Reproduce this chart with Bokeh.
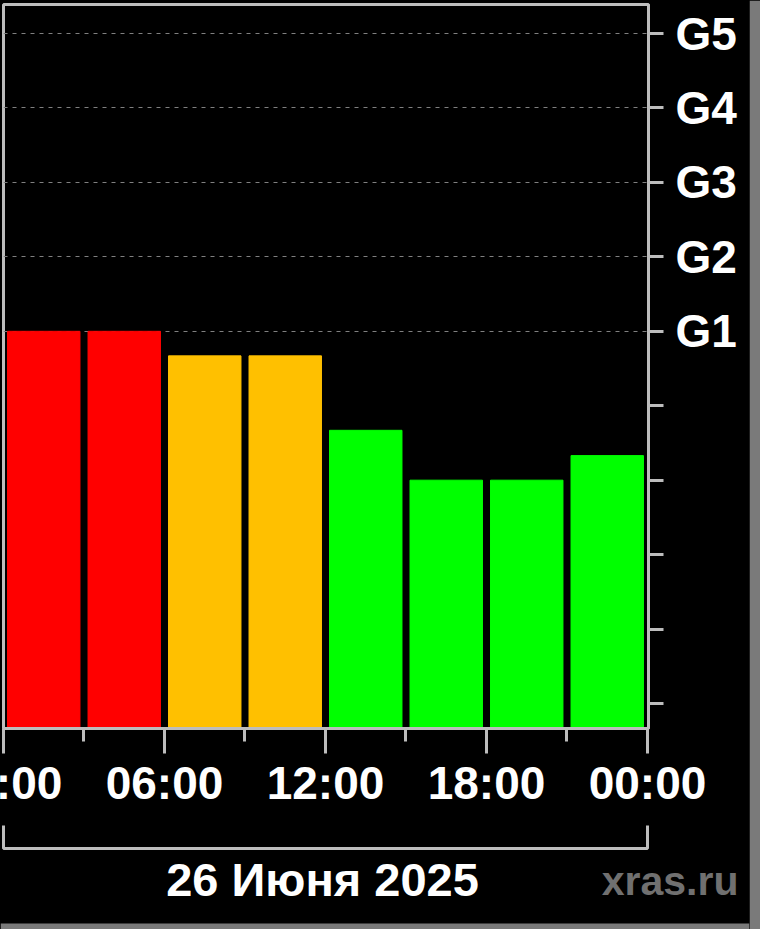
from bokeh.plotting import figure
from bokeh.models import Range1d, FixedTicker, ColumnDataSource
from bokeh.layouts import column, row
from bokeh.core.properties import value
from bokeh.embed import file_html
from bokeh.resources import INLINE

# ---- data ----
hours = [1.5, 4.5, 7.5, 10.5, 13.5, 16.5, 19.5, 22.5]      # 3-hour slot centres
kp = [5.0, 5.0, 4.67, 4.67, 3.67, 3.0, 3.0, 3.33]
colors = ["#ff0000", "#ff0000", "#ffc000", "#ffc000",
          "#00ff00", "#00ff00", "#00ff00", "#00ff00"]
x_ticks = [0, 6, 12, 18, 24]
x_minor = [3, 9, 15, 21]
x_labels = ["00:00", "06:00", "12:00", "18:00", "00:00"]
y_ticks = list(range(10))
g_labels = {5: "G1", 6: "G2", 7: "G3", 8: "G4", 9: "G5"}
date_text = "26 Июня 2025"
site_text = "xras.ru"

FONT = "Liberation Sans"
AX = "#bdbdbd"
BORDER = "#7a7a7a"

# layout geometry (pixels)
W, H = 760, 929
MAIN_W, MAIN_H = 749, 812
HIDE = 60                                     # part of main figure left of the window
FX0, FX1, FY0, FY1 = 3, 648, 4, 728          # frame edges (page px)
PXH = 26.833                                  # pixels per hour
PXU = 74.44                                   # pixels per Kp unit
Y_ZERO = 703                                  # page y of Kp 0

x0, x1 = 0.0, (FX1 - FX0) / PXH
y0, y1 = (Y_ZERO - FY1) / PXU, (Y_ZERO - FY0) / PXU

p = figure(width=MAIN_W + 2 * HIDE, height=MAIN_H, output_backend="svg",
           toolbar_location=None, frame_align=False,
           x_range=Range1d(x0, x1), y_range=Range1d(y0, y1),
           y_axis_location="right", background_fill_color="black",
           border_fill_color="black", min_border_left=FX0 + HIDE, min_border_top=FY0,
           min_border_right=MAIN_W - FX1, min_border_bottom=MAIN_H - FY1,
           margin=(0, 0, 0, -HIDE))
p.outline_line_color = AX
p.outline_line_width = 3

src = ColumnDataSource(dict(x=hours, top=kp, color=colors))
p.vbar(x="x", top="top", bottom=y0, width=2.7, color="color", source=src)

xa = p.xaxis[0]
ya = p.yaxis[0]
xa.ticker = FixedTicker(ticks=x_ticks, minor_ticks=x_minor)
xa.major_label_overrides = {t: l for t, l in zip(x_ticks, x_labels)}
for ax in (xa, ya):
    ax.axis_line_color = AX
    ax.axis_line_width = 3
    ax.major_tick_line_color = AX
    ax.major_tick_line_width = 3
    ax.minor_tick_line_color = AX
    ax.minor_tick_line_width = 3
    ax.major_tick_in = 0
    ax.minor_tick_in = 0
    ax.major_label_text_font = FONT
    ax.major_label_text_font_style = "bold"
    ax.major_label_text_font_size = "46px"
    ax.major_label_text_color = "white"
xa.major_tick_out = 25
xa.minor_tick_out = 13
xa.major_label_standoff = 3

ya.ticker = FixedTicker(ticks=y_ticks)
ya.major_label_overrides = {t: g_labels.get(t, "") for t in y_ticks}
ya.major_tick_out = 15
ya.minor_tick_out = 0
ya.major_label_standoff = 12

p.xgrid.grid_line_color = None
p.ygrid.ticker = FixedTicker(ticks=sorted(g_labels))
p.ygrid.grid_line_color = "#808080"
p.ygrid.grid_line_width = 1
p.ygrid.grid_line_dash = "4 5"

# ---- bottom strip: bracket, date, site name, bottom border ----
b = figure(width=MAIN_W, height=H - MAIN_H, output_backend="svg", toolbar_location=None,
           frame_align=False,
           x_range=Range1d(-FX0 / PXH, (MAIN_W - FX0) / PXH),
           y_range=Range1d(H, MAIN_H), background_fill_color="black",
           border_fill_color="black", min_border=0, outline_line_color=None)
b.axis.visible = False
b.grid.visible = False
b.multi_line(xs=[[x_ticks[0], x_ticks[0], x_ticks[-1], x_ticks[-1]]],
             ys=[[825, 848, 848, 825]], line_color=AX, line_width=3)
b.text(x=[(322 - FX0) / PXH], y=[879], text=[date_text], text_font=value(FONT),
       text_font_style="bold", text_font_size="47px", text_color="white",
       text_align="center", text_baseline="middle")
b.text(x=[(738 - FX0) / PXH], y=[880], text=[site_text], text_font=value(FONT),
       text_font_style="bold", text_font_size="41px", text_color="#707070",
       text_align="right", text_baseline="middle")
b.quad(left=[-FX0 / PXH], right=[(MAIN_W - FX0) / PXH], top=[923], bottom=[H],
       color=BORDER, line_width=0)

# ---- right strip: outer border ----
s = figure(width=W - MAIN_W + HIDE, height=H, output_backend="svg",
           toolbar_location=None, frame_align=False,
           x_range=Range1d(MAIN_W, W), y_range=Range1d(H, 0),
           background_fill_color="black", border_fill_color="black",
           min_border=0, outline_line_color=None, margin=(0, 0, 0, -HIDE))
s.axis.visible = False
s.grid.visible = False
s.quad(left=[MAIN_W], right=[754], top=[0], bottom=[H], color=BORDER, line_width=0)
s.quad(left=[MAIN_W], right=[W], top=[923], bottom=[H], color=BORDER, line_width=0)

layout = row(column(p, b, spacing=0), s, spacing=0,
             styles={"background-color": "black"})
open("out.html", "w").write(file_html(layout, INLINE))
